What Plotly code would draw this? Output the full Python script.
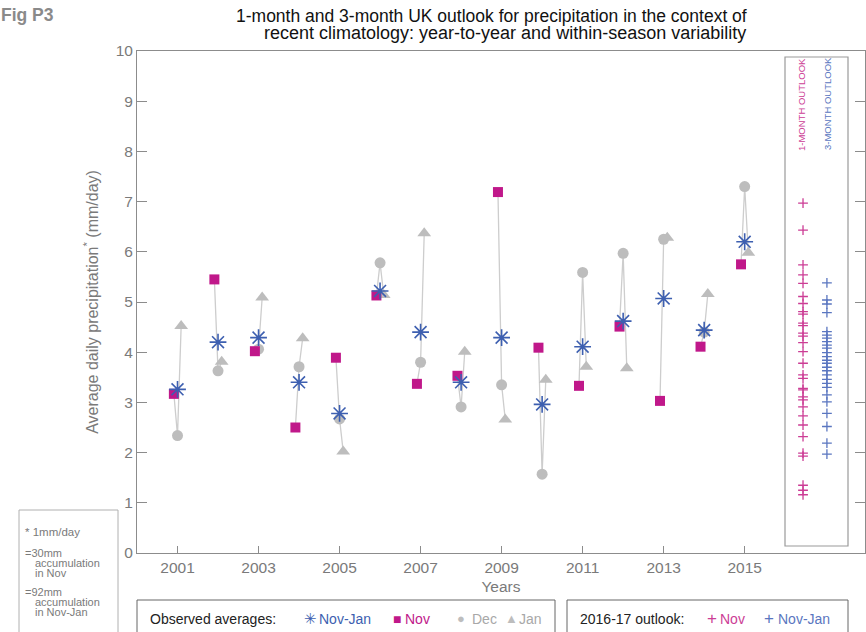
import plotly.graph_objects as go

# ---------------- data ----------------
years = [2001, 2002, 2003, 2004, 2005, 2006, 2007, 2008, 2009, 2010, 2011, 2012, 2013, 2014, 2015]
nov = [3.17, 5.45, 4.02, 2.50, 3.89, 5.13, 3.37, 3.53, 7.19, 4.09, 3.33, 4.51, 3.03, 4.11, 5.75]
dec = [2.34, 3.63, 4.06, 3.71, 2.67, 5.78, 3.80, 2.91, 3.35, 1.57, 5.59, 5.97, 6.25, 4.40, 7.30]
jan = [4.52, 3.81, 5.09, 4.28, 2.02, 5.14, 6.37, 4.01, 2.66, 3.45, 3.71, 3.68, 6.28, 5.16, 5.98]
nov_jan = [3.26, 4.20, 4.29, 3.40, 2.78, 5.22, 4.40, 3.40, 4.29, 2.96, 4.11, 4.62, 5.07, 4.44, 6.20]

outlook_1month = [6.97, 6.43, 5.74, 5.54, 5.37, 5.11, 4.97, 4.81, 4.76, 4.58, 4.53, 4.38, 4.32,
                  4.19, 4.01, 3.78, 3.55, 3.48, 3.28, 3.25, 3.11, 3.05, 2.91, 2.73, 2.55, 2.32,
                  1.99, 1.93, 1.35, 1.25, 1.16]
outlook_3month = [5.38, 5.04, 4.96, 4.79, 4.41, 4.34, 4.28, 4.21, 4.14, 4.08, 3.99, 3.91, 3.84,
                  3.78, 3.70, 3.63, 3.55, 3.46, 3.38, 3.30, 3.15, 3.01, 2.78, 2.52, 2.19, 1.97]

x_ticks = [2001, 2003, 2005, 2007, 2009, 2011, 2013, 2015]
y_ticks = [0, 1, 2, 3, 4, 5, 6, 7, 8, 9, 10]

# ---------------- styling ----------------
MAGENTA = "#c0188a"
MAGENTA_L = "#cc3d95"
BLUE = "#3d5fb0"
BLUE_L = "#5a76c0"
GREY = "#bdbdbd"
GREY_LINE = "#cdcdcd"
AXIS = "#8c8c8c"
TXT = "#7a7a7a"
FONT = "Liberation Sans, Arial, sans-serif"

W, H = 866, 632
L, R, T, B = 137, 865, 51, 553


def px(x):
    return (x - L) / (R - L)


def py(y):
    return (B - y) / (B - T)


OFF = 0.09

# connecting lines Nov -> Dec -> Jan per season
lx, ly = [], []
for yr, a, b, c in zip(years, nov, dec, jan):
    lx += [yr - OFF, yr, yr + OFF, None]
    ly += [a, b, c, None]

fig = go.Figure()
fig.add_trace(go.Scatter(x=lx, y=ly, mode="lines",
                         line=dict(color=GREY_LINE, width=1.3), hoverinfo="skip"))
fig.add_trace(go.Scatter(x=[y + OFF for y in years], y=jan, mode="markers",
                         marker=dict(symbol="triangle-up", size=12, color=GREY)))
fig.add_trace(go.Scatter(x=years, y=dec, mode="markers",
                         marker=dict(symbol="circle", size=11, color=GREY)))
fig.add_trace(go.Scatter(x=[y - OFF for y in years], y=nov, mode="markers",
                         marker=dict(symbol="square", size=10, color=MAGENTA)))
fig.add_trace(go.Scatter(x=years, y=nov_jan, mode="markers",
                         marker=dict(symbol="asterisk-open", size=14, color=BLUE,
                                     line=dict(color=BLUE, width=1.6))))

X1 = 2016.44
X3 = 2017.03
fig.add_trace(go.Scatter(x=[X1] * len(outlook_1month), y=outlook_1month, mode="markers",
                         marker=dict(symbol="cross-thin-open", size=7, color=MAGENTA_L,
                                     line=dict(color=MAGENTA_L, width=1.3))))
fig.add_trace(go.Scatter(x=[X3] * len(outlook_3month), y=outlook_3month, mode="markers",
                         marker=dict(symbol="cross-thin-open", size=7, color=BLUE_L,
                                     line=dict(color=BLUE_L, width=1.3))))

shapes = []
# outlook box
shapes.append(dict(type="rect", xref="paper", yref="paper",
                   x0=px(785), x1=px(848), y0=py(546), y1=py(57),
                   line=dict(color="#9a9a9a", width=1.2)))
# note box
shapes.append(dict(type="rect", xref="paper", yref="paper",
                   x0=px(19), x1=px(118), y0=py(645), y1=py(510),
                   line=dict(color="#b0b0b0", width=1)))
# legend boxes
shapes.append(dict(type="rect", xref="paper", yref="paper",
                   x0=px(137), x1=px(555), y0=py(645), y1=py(600),
                   line=dict(color="#666666", width=1)))
shapes.append(dict(type="rect", xref="paper", yref="paper",
                   x0=px(567), x1=px(848), y0=py(645), y1=py(600),
                   line=dict(color="#666666", width=1)))

ann = []


def text(x, y, s, size=12, color=TXT, anchor="left", angle=0, bold=False):
    if bold:
        s = "<b>" + s + "</b>"
    ann.append(dict(xref="paper", yref="paper", x=px(x), y=py(y), text=s,
                    showarrow=False, xanchor=anchor, yanchor="middle", textangle=angle,
                    font=dict(family=FONT, size=size, color=color)))


# title
text(491, 16, "1-month and 3-month UK outlook for precipitation in the context of",
     size=17.5, color="#111111", anchor="center")
text(505, 33, "recent climatology: year-to-year and within-season variability",
     size=18, color="#111111", anchor="center")
text(-1, 15, "Fig P3", size=17.5, color="#8a8a8a", bold=True)

# outlook labels
text(801, 105, "1-MONTH OUTLOOK", size=9.5, color=MAGENTA_L, anchor="center", angle=-90)
text(827, 104, "3-MONTH OUTLOOK", size=9.5, color=BLUE_L, anchor="center", angle=-90)

# note
text(23, 532, "* 1mm/day", size=11.5)
text(23, 553, "=30mm", size=11)
text(33, 563, "accumulation", size=11)
text(33, 573, "in Nov", size=11)
text(23, 592, "=92mm", size=11)
text(33, 602, "accumulation", size=11)
text(33, 612, "in Nov-Jan", size=11)

# legend 1
LY = 619
text(148, LY, "Observed averages:", size=14, color="#222222")
text(302, LY, "✳", size=15, color=BLUE)
text(317, LY, "Nov-Jan", size=14, color=BLUE)
text(391, LY, "■", size=14, color=MAGENTA)
text(403, LY, "Nov", size=14, color=MAGENTA)
text(455, LY, "●", size=13, color=GREY)
text(470, LY, "Dec", size=14, color="#a8a8a8")
text(503, LY, "▲", size=13, color=GREY)
text(517, LY, "Jan", size=14, color="#a8a8a8")

# legend 2
text(578, LY, "2016-17 outlook:", size=14, color="#222222")
text(705, LY, "+", size=17, color=MAGENTA_L)
text(718, LY, "Nov", size=14, color=MAGENTA_L)
text(762, LY, "+", size=17, color=BLUE_L)
text(776, LY, "Nov-Jan", size=14, color=BLUE_L)

fig.update_layout(
    width=W, height=H,
    margin=dict(l=L, r=W - R, t=T, b=H - B, pad=0),
    paper_bgcolor="white", plot_bgcolor="white",
    showlegend=False,
    shapes=shapes, annotations=ann,
    font=dict(family=FONT, color=TXT),
)
fig.update_xaxes(range=[2000, 2017.97], tickvals=x_ticks, ticks="inside", ticklen=7,
                 tickcolor=AXIS, showline=True, linecolor=AXIS, linewidth=1, mirror=True,
                 showgrid=False, zeroline=False,
                 tickfont=dict(family=FONT, size=15.5, color=TXT),
                 title=dict(text="Years", font=dict(family=FONT, size=15.5, color=TXT), standoff=6))
fig.update_yaxes(range=[0, 10], tickvals=y_ticks, ticks="inside", ticklen=10,
                 tickcolor=AXIS, showline=True, linecolor=AXIS, linewidth=1, mirror="ticks",
                 showgrid=False, zeroline=False,
                 tickfont=dict(family=FONT, size=15.5, color=TXT),
                 title=dict(text="Average daily precipitation<sup>*</sup> (mm/day)",
                            font=dict(family=FONT, size=16, color=TXT), standoff=13))

fig.write_html("out.html",
               config={"displayModeBar": False},
               post_script="document.body.style.margin='0';document.body.style.overflow='hidden';")
